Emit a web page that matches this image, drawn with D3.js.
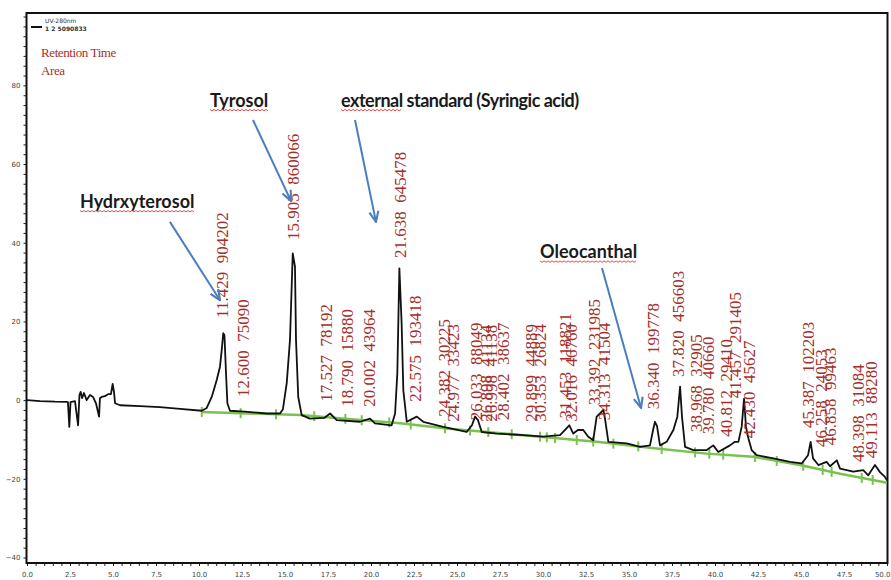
<!DOCTYPE html>
<html lang="en">
<head>
<meta charset="UTF-8">
<title>HPLC chromatogram</title>
<script src="https://d3js.org/d3.v7.min.js"></script>
<style>
    body { margin: 0; background: #fff; }
    svg { display: block; }
    .peak-label { font-family: 'Liberation Serif', serif; font-size: 17px; fill: #a5302b; white-space: pre; }
    .note { font-family: Lato, sans-serif; font-weight: bold; font-size: 18px; fill: #1a1a1a; }
    .axis text { font-family: 'DejaVu Sans', sans-serif; font-size: 7px; fill: #444; }
    .axis path, .axis line { stroke: #222; }
</style>
</head>
<body>
<svg id="chart" width="891" height="580"></svg>
<script>
// detector trace, [minutes, mAU]
const trace = [
    [0,0],[0.76,-0.25],[1.63,-0.4],[2.31,-0.43],[2.38,-0.5],[2.46,-6.8],[2.53,-0.5],[2.79,-0.25],[2.97,-6.4],
    [3.05,1.3],[3.12,2.1],[3.2,0.5],[3.31,1.8],[3.47,0],[3.66,1.3],[3.84,0.8],[4.01,-0.8],[4.19,-4.2],[4.24,0.5],
    [4.34,0.8],[4.53,1.0],[4.71,1.5],[4.88,1.5],[4.98,4.1],[5.06,2.0],[5.12,-0.8],[5.41,-1.3],[6.57,-1.5],[7.73,-1.8],
    [8.9,-2.2],[10.16,-2.7],[10.45,-2.0],[10.74,0.8],[11.03,5.1],[11.22,8.5],[11.32,12.7],[11.41,17.0],[11.48,16.5],
    [11.57,6.9],[11.65,-0.8],[11.8,-2.7],[12.67,-2.9],[13.94,-3.4],[14.71,-3.4],[14.88,-2.3],[15.1,4.3],[15.29,15.3],
    [15.45,37.3],[15.58,33.9],[15.64,15.3],[15.77,0.8],[15.97,-3.8],[16.45,-4.7],[17.3,-4.5],[17.62,-3.4],[18.01,-5.1],
    [19.36,-5.5],[19.94,-4.7],[20.23,-5.9],[21.2,-6.4],[21.4,-3.4],[21.53,6.8],[21.65,33.5],[21.78,19.6],[21.88,2.5],
    [22.08,-5.5],[22.66,-4.2],[23.04,-5.5],[24.2,-6.8],[25.56,-8.1],[25.87,-6.4],[26.05,-4.2],[26.22,-5.1],[26.44,-8.1],
    [27.31,-8.5],[28.85,-8.9],[30.02,-9.3],[30.99,-8.9],[31.53,-6.4],[31.76,-8.5],[32.03,-7.6],[32.34,-7.6],[32.63,-9.3],
    [32.92,-10.2],[33.12,-4.2],[33.31,-3.4],[33.51,-2.5],[33.6,-4.6],[33.8,-10.6],[34.87,-11.0],[35.64,-11.9],[36.22,-11.5],
    [36.4,-7.6],[36.51,-5.5],[36.63,-6.6],[36.8,-11.5],[37.19,-10.6],[37.58,-7.6],[37.81,-4.2],[37.97,3.4],[38.08,-4.2],
    [38.26,-11.9],[38.74,-12.7],[39.52,-12.7],[39.9,-11.5],[40.19,-13.2],[40.87,-11.5],[41.16,-10.6],[41.36,-10.6],
    [41.55,-6.8],[41.69,0.4],[41.8,-6.8],[41.94,-9.7],[42.13,-12.7],[42.42,-14.0],[43.39,-14.8],[44.36,-15.7],[45.04,-16.1],
    [45.41,-14.0],[45.56,-10.6],[45.7,-14.8],[46.01,-16.5],[46.49,-15.7],[46.69,-16.8],[47.08,-15.3],[47.27,-17.4],
    [48.04,-18.2],[48.62,-17.8],[48.91,-19.1],[49.3,-16.5],[49.59,-18.3],[49.88,-19.5],[50,-20.4]
];

// integration baseline (green) and its peak start/end marks
const baselineT = [10.16, 15.87, 21.69, 24.4, 29.83, 33.12, 36.61, 39.52, 42.23, 44.94, 47.27, 50];
const baselineV = [-3.0, -3.8, -5.9, -7.2, -9.3, -10.6, -12.3, -13.6, -14.4, -16.5, -18.7, -21.0];
const markTimes = [10.16, 12.42, 14.48, 16.7, 18.51, 19.46, 21.06, 22.31, 24.3, 25.76, 26.82, 28.18, 29.83, 30.22,
    30.7, 31.96, 32.92, 34.09, 35.54, 36.9, 38.84, 39.67, 40.48, 42.33, 43.59, 45.13, 46.26, 46.78, 48.53, 49.17];

// peak labels: retention time, area, where the label sits
const peakRT = ["11.429", "12.600", "15.905", "17.527", "18.790", "20.002", "21.638", "22.575", "24.382", "24.977",
    "26.033", "26.898", "26.998", "28.402", "29.899", "30.353", "31.453", "32.016", "33.392", "34.313", "36.340",
    "37.820", "38.968", "39.780", "40.812", "41.457", "42.430", "45.387", "46.258", "46.858", "48.398", "49.113"];
const peakArea = ["904202", "75090", "860066", "78192", "15880", "43964", "645478", "193418", "30225", "33423",
    "88049", "41134", "41138", "38637", "44889", "26824", "118821", "46760", "231985", "41504", "199778",
    "456603", "32905", "40660", "29410", "291405", "45627", "102203", "24053", "99463", "31084", "88280"];
const labelT = [11.34, 12.56, 15.47, 17.42, 18.66, 19.94, 21.69, 22.56, 24.30, 24.78, 26.14, 26.74, 26.98, 27.69,
    29.34, 29.83, 31.28, 31.67, 33.02, 33.60, 36.45, 37.87, 38.94, 39.65, 40.64, 41.22, 42.03, 45.41, 46.20, 46.69,
    48.33, 49.11];
const labelV = [20.9, 0.8, 40.7, -0.4, -1.7, -1.7, 36.1, -0.4, -4.2, -5.5, -5.1, -5.5, -5.5, -5.1, -5.5, -5.5,
    -4.7, -5.5, -1.3, -5.1, -2.3, 5.9, -8.1, -8.7, -9.3, 0.5, -9.7, -7.1, -11.9, -11.5, -15.7, -14.8];

// hand-written compound notes with arrows
const noteText = ["Hydrxyterosol", "Tyrosol", "external standard (Syringic acid)", "Oleocanthal"];
const noteUnderline = [13, 7, 8, 11];
const noteT = [3.08, 10.64, 18.26, 29.83];
const noteV = [48.9, 74.6, 74.6, 36.1];
const arrowFrom = [[8.31, 45.3], [13.14, 71.2], [19.07, 71.2], [33.43, 33.6]];
const arrowTo = [[11.22, 25.4], [15.35, 50.6], [20.29, 45.3], [35.7, -2.0]];

const xTicks = d3.range(0, 50.01, 2.5);
const yTicks = [-40, -20, 0, 20, 40, 60, 80];

const svg = d3.select("#chart");
const x = d3.scaleLinear().domain([0, 50]).range([27, 887]);
const y = d3.scaleLinear().domain([-41.4, 98.4]).range([563, 13]);

// axes
svg.append("g").attr("class", "axis").attr("transform", "translate(0,563)")
    .call(d3.axisBottom(x).tickValues(d3.range(0, 50.01, 0.5)).tickSize(3).tickFormat(""))
    .call(g => g.select(".domain").remove());
svg.append("g").attr("class", "axis").attr("transform", "translate(0,563)")
    .call(d3.axisBottom(x).tickValues(xTicks).tickSize(0).tickPadding(9).tickFormat(d3.format(".1f")))
    .call(g => g.select(".domain").remove())
    .call(g => g.selectAll(".tick:last-of-type text").attr("text-anchor", "end").attr("dx", "3"));
svg.append("g").attr("class", "axis").attr("transform", "translate(26.5,0)")
    .call(d3.axisLeft(y).tickValues(d3.range(-40, 97.6, 2.5)).tickSize(3).tickFormat(""))
    .call(g => g.select(".domain").remove());
svg.append("g").attr("class", "axis").attr("transform", "translate(26.5,0)")
    .call(d3.axisLeft(y).tickValues(yTicks).tickSize(0).tickPadding(6))
    .call(g => g.select(".domain").remove());

// frame
svg.append("rect")
    .attr("x", 26.5).attr("y", 13).attr("width", 861).attr("height", 550)
    .attr("fill", "none").attr("stroke", "#111").attr("stroke-width", 2);

// legend
svg.append("line").attr("x1", 31).attr("x2", 42).attr("y1", 27).attr("y2", 27)
    .attr("stroke", "#111").attr("stroke-width", 2);
svg.append("text").attr("x", 45).attr("y", 23).text("UV-280nm")
    .style("font", "6px 'DejaVu Sans', sans-serif").style("fill", "#333");
svg.append("text").attr("x", 45).attr("y", 31).text("1 2 5090833")
    .style("font", "bold 6px 'DejaVu Sans', sans-serif").style("fill", "#333");
svg.append("text").attr("x", 41).attr("y", 57).text("Retention Time")
    .style("font", "13px 'Liberation Serif', serif").style("fill", "#a5302b").style("letter-spacing", "-0.4px");
svg.append("text").attr("x", 41).attr("y", 75).text("Area")
    .style("font", "13px 'Liberation Serif', serif").style("fill", "#a5302b").style("letter-spacing", "-0.4px");

// integration baseline
const base = d3.scaleLinear().domain(baselineT).range(baselineV);
svg.append("path")
    .datum(baselineT.map((t, i) => [t, baselineV[i]]))
    .attr("fill", "none").attr("stroke", "#79c24e").attr("stroke-width", 2.5)
    .attr("d", d3.line().x(d => x(d[0])).y(d => y(d[1])));
svg.selectAll(".mark").data(markTimes).enter().append("line")
    .attr("class", "mark")
    .attr("x1", d => x(d)).attr("x2", d => x(d))
    .attr("y1", d => y(base(d)) - 5).attr("y2", d => y(base(d)) + 5)
    .attr("stroke", "#79c24e").attr("stroke-width", 2);

// chromatogram
svg.append("path")
    .datum(trace)
    .attr("fill", "none").attr("stroke", "#111").attr("stroke-width", 1.8)
    .attr("stroke-linejoin", "round")
    .attr("d", d3.line().x(d => x(d[0])).y(d => y(d[1])));

// peak labels, rotated
svg.selectAll(".peak-label").data(peakRT).enter().append("text")
    .attr("class", "peak-label")
    .attr("transform", (d, i) => `translate(${x(labelT[i])},${y(labelV[i])}) rotate(-90)`)
    .attr("dominant-baseline", "central")
    .text((d, i) => d + "  " + peakArea[i]);

// arrows
const defs = svg.append("defs");
defs.append("marker").attr("id", "head")
    .attr("viewBox", "0 0 10 10").attr("refX", 9).attr("refY", 5)
    .attr("markerWidth", 13).attr("markerHeight", 13).attr("markerUnits", "userSpaceOnUse")
    .attr("orient", "auto")
    .append("path").attr("d", "M1,1.5 L9,5 L1,8.5")
    .attr("fill", "none").attr("stroke", "#4a7ebf").attr("stroke-width", 1.6);

svg.selectAll(".arrow").data(arrowFrom).enter().append("line")
    .attr("class", "arrow")
    .attr("x1", d => x(d[0])).attr("y1", d => y(d[1]))
    .attr("x2", (d, i) => x(arrowTo[i][0])).attr("y2", (d, i) => y(arrowTo[i][1]))
    .attr("stroke", "#4a7ebf").attr("stroke-width", 2)
    .attr("marker-end", "url(#head)");

// notes with spell-check squiggles
noteText.forEach((txt, i) => {
    const t = svg.append("text").attr("class", "note")
        .attr("x", x(noteT[i])).attr("y", y(noteV[i])).text(txt);
    if (txt.length > 20) t.style("letter-spacing", "-0.5px");
    const w = t.node().getSubStringLength(0, noteUnderline[i]);
    const x0 = x(noteT[i]), yb = y(noteV[i]) + 3;
    const pts = d3.range(0, Math.floor(w / 2) + 1).map(k => [x0 + k * 2, yb + (k % 2 ? 1.2 : -0.2)]);
    svg.append("path").attr("d", d3.line()(pts))
        .attr("fill", "none").attr("stroke", "#e03a3a").attr("stroke-width", 0.9);
});
</script>
</body>
</html>
